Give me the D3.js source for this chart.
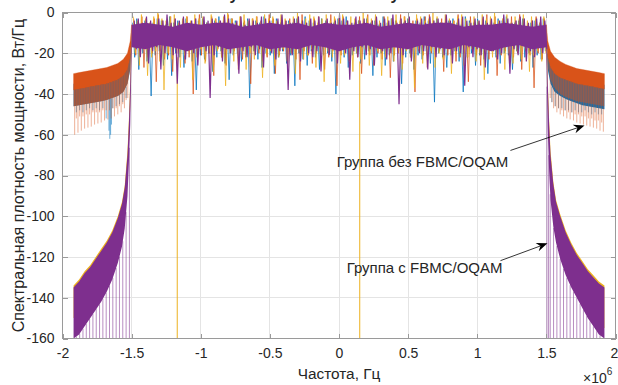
<!DOCTYPE html>
<html>
<head>
<meta charset="utf-8">
<script src="https://cdn.jsdelivr.net/npm/d3@7/dist/d3.min.js"></script>
<style>
  html, body { margin: 0; padding: 0; background: #fff; }
  svg text { font-family: "Liberation Sans", Arial, Helvetica, sans-serif; fill: #262626; }
</style>
</head>
<body>
<svg id="chart" width="618" height="385"></svg>
<script>
// Power spectral density of two signal groups (OFDM vs FBMC/OQAM).
// Frequencies in MHz (axis shows Hz ×10^6), levels in dB.

const xTicks = [-2, -1.5, -1, -0.5, 0, 0.5, 1, 1.5, 2];
const yTicks = [-160, -140, -120, -100, -80, -60, -40, -20, 0];
const colors = { blue: "#0072BD", orange: "#D95319", yellow: "#EDB120", purple: "#7E2F8E" };

// ---- in-band traces (-1.5 .. 1.5 MHz): per-bin maxima / minima ----
const bandPhase = { blue: 0, orange: 0.0075, yellow: 0.004, purple: 0.011 };

const blueHi = [-5,-3,-6,-4,-7,-5,-3,-4,-6,-2,-5,-4,-7,-3,-5,-6,-4,-3,-5,-7,-4,-2,-6,-5,-3,-4,-6,-5,-3,-7,-4,-5,-2,-6,-4,-3,-5,-7,-4,-5,-3,-6,-2,-4,-5,-7,-3,-4,-6,-5,-3,-4,-2,-6,-5,-4,-7,-3,-5,-4,-6,-2,-5,-3,-4,-7,-5,-3,-6,-4,-5,-2,-4,-6,-3,-5,-7,-4,-3,-5,-6,-2,-4,-5,-3,-7,-4,-6,-5,-3,-4,-2,-6,-5,-4,-3,-7,-5,-4,-6,-3];
const blueLo = [-22,-28,-20,-24,-41,-21,-19,-26,-23,-31,-20,-22,-27,-19,-24,-38,-21,-23,-20,-29,-22,-19,-25,-33,-21,-20,-24,-22,-42,-19,-23,-27,-20,-21,-30,-22,-19,-25,-21,-36,-20,-23,-26,-19,-22,-28,-21,-20,-24,-40,-19,-22,-27,-21,-20,-25,-23,-19,-31,-22,-20,-26,-21,-24,-19,-35,-22,-20,-28,-21,-23,-19,-25,-44,-20,-22,-27,-21,-19,-24,-39,-22,-20,-26,-21,-23,-30,-19,-22,-25,-20,-21,-28,-19,-24,-22,-20,-27,-21,-23,-19];

const orangeHi = [-3,-5,-2,-4,-6,-3,-1,-4,-5,-2,-3,-6,-4,-2,-5,-3,-1,-4,-6,-2,-3,-5,-4,-1,-3,-6,-2,-4,-5,-3,-2,-4,-6,-1,-3,-5,-2,-4,-3,-6,-2,-1,-5,-4,-3,-2,-6,-4,-1,-3,-5,-2,-4,-6,-3,-2,-5,-1,-4,-3,-6,-2,-5,-3,-4,-1,-2,-6,-4,-3,-5,-2,-1,-4,-6,-3,-2,-5,-4,-1,-3,-6,-2,-4,-5,-3,-1,-4,-2,-6,-3,-5,-2,-4,-1,-3,-6,-4,-2,-5,-3];
const orangeLo = [-21,-19,-27,-22,-20,-34,-19,-23,-21,-29,-20,-18,-25,-22,-40,-19,-21,-24,-20,-31,-18,-22,-26,-20,-19,-28,-23,-21,-35,-19,-20,-24,-22,-18,-30,-21,-19,-27,-20,-23,-33,-19,-21,-25,-20,-18,-28,-22,-19,-36,-21,-20,-24,-19,-22,-30,-18,-21,-26,-20,-23,-19,-32,-21,-20,-25,-18,-22,-39,-19,-21,-27,-20,-23,-19,-29,-21,-18,-24,-22,-20,-34,-19,-21,-26,-20,-23,-18,-31,-21,-19,-25,-22,-20,-28,-19,-21,-37,-20,-23,-19];

const yellowHi = [-2,-4,-1,-3,-5,-2,0,-3,-4,-2,-1,-5,-3,-2,-4,-1,-3,-2,-5,-1,-3,-4,-2,0,-3,-5,-2,-1,-4,-3,-2,-5,-1,-3,-2,-4,-1,-3,-5,-2,0,-4,-3,-1,-2,-5,-3,-1,-4,-2,-3,-1,-5,-2,-3,-4,0,-2,-3,-1,-4,-5,-2,-3,-1,-4,-2,-3,-5,-1,-2,-4,-3,0,-2,-5,-1,-3,-4,-2,-1,-3,-5,-2,-4,-1,-3,-2,0,-4,-3,-1,-5,-2,-3,-1,-4,-2,-3,-5,-2];
const yellowLo = [-20,-26,-18,-31,-22,-19,-24,-38,-20,-23,-18,-27,-21,-19,-33,-22,-18,-25,-20,-29,-19,-22,-36,-18,-24,-21,-19,-28,-20,-23,-18,-32,-21,-19,-26,-22,-18,-24,-20,-30,-19,-23,-21,-18,-27,-20,-34,-19,-22,-18,-25,-21,-19,-29,-20,-23,-18,-26,-21,-19,-31,-22,-18,-24,-20,-28,-19,-22,-37,-18,-25,-21,-19,-27,-20,-23,-18,-30,-21,-19,-26,-22,-18,-24,-20,-33,-19,-22,-21,-18,-28,-20,-25,-19,-23,-18,-29,-21,-19,-24,-20];

const purpleHi = [-4,-3,-5,-2,-4,-6,-3,-4,-1,-5,-3,-4,-2,-5,-4,-3,-6,-2,-4,-3,-5,-4,-1,-3,-5,-4,-2,-6,-3,-4,-5,-2,-3,-4,-6,-3,-1,-4,-5,-3,-2,-4,-5,-3,-4,-2,-6,-3,-5,-4,-1,-3,-4,-5,-2,-4,-3,-6,-4,-2,-5,-3,-4,-1,-5,-3,-4,-2,-6,-4,-3,-5,-2,-4,-3,-5,-1,-4,-6,-3,-2,-4,-5,-3,-4,-2,-5,-3,-6,-4,-1,-3,-5,-4,-2,-3,-5,-4,-3,-2,-4];
const purpleLo = [-18,-22,-16,-25,-19,-17,-28,-20,-16,-21,-35,-18,-23,-17,-20,-26,-16,-19,-42,-21,-17,-24,-18,-20,-16,-30,-19,-22,-17,-21,-18,-27,-16,-20,-23,-19,-17,-38,-21,-18,-24,-16,-20,-22,-19,-29,-17,-21,-18,-25,-16,-20,-33,-19,-22,-17,-21,-18,-26,-16,-19,-23,-20,-17,-45,-21,-18,-24,-16,-20,-19,-28,-17,-22,-18,-21,-16,-25,-19,-20,-36,-17,-22,-18,-21,-27,-16,-19,-23,-20,-17,-30,-18,-21,-16,-24,-19,-22,-17,-20,-18];

// dense core of the top trace, 0.1 MHz grid
const coreFreq = d3.range(31).map(i => +(-1.5 + i * 0.1).toFixed(2));
const purpleCoreTop = [-6,-5,-6,-7,-5,-6,-5,-5,-7,-6,-5,-6,-5,-7,-5,-6,-6,-5,-7,-6,-5,-6,-5,-5,-7,-6,-6,-5,-6,-7,-6];
const purpleCoreBot = [-17,-18,-16,-17,-19,-17,-16,-18,-17,-16,-18,-17,-18,-16,-17,-19,-17,-16,-18,-17,-18,-16,-17,-18,-16,-17,-19,-17,-16,-18,-17];

// deep single-bin nulls of the yellow trace
const yellowNullFreq = [-1.17, 0.15];
const yellowNullTop = [-22, -24];
const yellowNullDepth = [-171, -168];

// ---- OFDM out-of-band sidelobes ----
const sideFreqL = [-1.92,-1.88,-1.84,-1.80,-1.76,-1.72,-1.68,-1.64,-1.60,-1.56,-1.53,-1.51,-1.50];
const orangeTopL = [-30,-29.5,-29,-28.5,-28,-27.5,-27,-26,-25,-23,-20,-14,-6];
const orangeBotL = [-38,-37.5,-37,-36.5,-36,-35.5,-35,-34,-33,-31,-28,-22,-12];
const orangeFringeL = [-46,-45.5,-45,-44.5,-44,-43.5,-43,-42,-41,-39,-35,-28,-16];
const blueTopL = [-35,-35,-34.5,-34,-34,-33.5,-33,-32,-31,-29,-26,-20,-10];
const blueBotL = [-46,-45.5,-45,-44.5,-44,-43.5,-43,-42,-41,-39,-35,-28,-16];

const sideFreqR = [1.50,1.51,1.53,1.56,1.60,1.64,1.68,1.72,1.76,1.80,1.84,1.88,1.92];
const orangeTopR = [-6,-14,-19,-22,-24,-25.5,-26.5,-27.5,-28,-28.5,-29,-29.5,-30];
const orangeBotR = [-12,-22,-27,-30,-32,-33,-34,-35,-35.5,-36,-36.5,-37,-37.5];
const orangeFringeR = [-15,-27,-33,-37,-40,-41.5,-42.5,-43.5,-44,-44.5,-45,-45.5,-46];
const blueTopR = [-10,-20,-25,-28,-30,-31,-32,-33,-33.5,-34,-34.5,-35,-35.5];
const blueBotR = [-16,-28,-35,-39,-41,-42.5,-43.5,-44.5,-45.5,-46,-46.5,-47,-47.5];

// sidelobe nulls (comb)
const orangeCombFreqL = [-1.912,-1.900,-1.888,-1.876,-1.864,-1.852,-1.840,-1.828,-1.816,-1.804,-1.792,-1.780,-1.768,-1.756,-1.744,-1.732,-1.720,-1.708,-1.696,-1.684,-1.672,-1.660,-1.648,-1.636,-1.624,-1.612,-1.600,-1.588,-1.576,-1.564,-1.552,-1.540,-1.528];
const orangeCombDepthL = [-60,-52,-59,-51,-58,-51,-57,-50,-56.5,-50,-56,-49,-55,-49,-54.5,-49,-54,-48,-53,-48,-52.5,-48,-52,-47,-51,-47,-50,-46,-49,-45,-47,-43,-42];
const orangeCombFreqR = [1.528,1.540,1.552,1.564,1.576,1.588,1.600,1.612,1.624,1.636,1.648,1.660,1.672,1.684,1.696,1.708,1.720,1.732,1.744,1.756,1.768,1.780,1.792,1.804,1.816,1.828,1.840,1.852,1.864,1.876,1.888,1.900,1.912];
const orangeCombDepthR = [-42,-44,-47,-46,-49,-47,-50,-48,-51,-48,-52,-49,-52.5,-49,-53,-50,-54,-50,-54.5,-51,-55,-51,-55.5,-52,-56,-52,-56.5,-53,-57,-53,-58,-54,-58.5];

const blueCombFreqL = [-1.900,-1.876,-1.852,-1.828,-1.804,-1.780,-1.756,-1.732,-1.708,-1.684,-1.664,-1.658,-1.652,-1.646,-1.636,-1.612,-1.588,-1.564,-1.540];
const blueCombDepthL = [-49,-48,-49,-48,-47,-48,-47,-48,-47,-52,-58,-62,-60,-55,-47,-46,-45,-44,-42];
const blueCombFreqR = [1.540,1.564,1.588,1.612,1.636,1.660,1.684,1.708,1.732,1.756,1.780,1.804,1.828,1.852,1.876,1.900];
const blueCombDepthR = [-44,-46,-47,-47,-48,-48,-49,-48,-49,-49,-48,-49,-50,-49,-50,-50];

// ---- FBMC/OQAM skirts ----
const skirtFreqL = [-1.92,-1.88,-1.84,-1.80,-1.76,-1.72,-1.68,-1.64,-1.60,-1.57,-1.55,-1.53,-1.52,-1.51,-1.50];
const purpleTopL = [-135,-132,-128,-125,-121,-117,-113,-108,-101,-94,-86,-70,-55,-35,-6];
const purpleBotL = [-160,-158,-154,-150,-146,-142,-137,-131,-123,-115,-106,-90,-74,-55,-20];
const yellowTopL = [-134,-131,-127,-124,-120,-116,-112,-107,-100,-93,-85,-68,-53,-33,-5];
const yellowBotL = [-150,-147,-144,-141,-137,-133,-128,-123,-116,-108,-98,-82,-66,-46,-16];

const skirtFreqR = [1.50,1.51,1.52,1.53,1.55,1.57,1.60,1.64,1.68,1.72,1.76,1.80,1.84,1.88,1.92];
const purpleTopR = [-6,-35,-55,-70,-84,-93,-100,-108,-114,-119,-123,-127,-130,-133,-135];
const purpleBotR = [-22,-58,-78,-92,-105,-113,-121,-129,-135,-140,-145,-150,-154,-158,-160];
const yellowTopR = [-5,-33,-53,-68,-83,-92,-99,-107,-113,-118,-122,-126,-129,-132,-134];
const yellowBotR = [-16,-45,-66,-82,-98,-108,-116,-124,-130,-136,-141,-146,-150,-153,-155];

const purpleCombFreqL = [-1.900,-1.876,-1.852,-1.828,-1.804,-1.780,-1.756,-1.732,-1.708,-1.684,-1.660,-1.636,-1.612,-1.588,-1.564,-1.540,-1.516];
const purpleCombDepthL = [-172,-168,-175,-170,-166,-173,-169,-177,-171,-167,-174,-170,-176,-168,-172,-169,-175];
const purpleCombFreqR = [1.504,1.516,1.528,1.552,1.576,1.600,1.624,1.648,1.672,1.696,1.720,1.744,1.768,1.792,1.816,1.840,1.864,1.888];
const purpleCombDepthR = [-174,-169,-172,-176,-168,-171,-175,-167,-173,-170,-177,-169,-172,-168,-174,-171,-176,-170];

// ---- annotations (frequency MHz, level dB) ----
const notes = [
  { text: "Группа без FBMC/OQAM", at: [0.604, -73.2], from: [1.240, -67.7], to: [1.776, -55.4] },
  { text: "Группа с FBMC/OQAM",   at: [0.619, -125.6], from: [1.168, -121.8], to: [1.508, -113.3] }
];
const titleText = "Внеполосное излучение сигналов в сумме";

// ================= drawing =================
const MHz = 1e6;
const plot = { left: 62.5, right: 615.5, top: 12.5, bottom: 338.5 };

const svg = d3.select("#chart");
const x = d3.scaleLinear().domain([-2 * MHz, 2 * MHz]).range([plot.left, plot.right]);
const y = d3.scaleLinear().domain([-160, 0]).range([plot.bottom, plot.top]);
const fx = f => x(f * MHz);

svg.append("defs").append("clipPath").attr("id", "plotClip")
  .append("rect").attr("x", plot.left).attr("y", plot.top)
  .attr("width", plot.right - plot.left).attr("height", plot.bottom - plot.top);

// grid
const grid = svg.append("g").attr("stroke", "#e4e4e4").attr("stroke-width", 1).attr("shape-rendering", "crispEdges");
grid.selectAll("line.gx").data(xTicks).join("line")
  .attr("x1", d => fx(d)).attr("x2", d => fx(d)).attr("y1", plot.top).attr("y2", plot.bottom);
grid.selectAll("line.gy").data(yTicks).join("line")
  .attr("y1", d => y(d)).attr("y2", d => y(d)).attr("x1", plot.left).attr("x2", plot.right);

const data = svg.append("g").attr("clip-path", "url(#plotClip)");

const lineGen = d3.line().x(d => fx(d[0])).y(d => y(d[1]));
const areaGen = d3.area().x(d => fx(d[0])).y0(d => y(d[2])).y1(d => y(d[1]));

function zigzag(hi, lo, phase) {
  const n = Math.min(hi.length, lo.length);
  const step = 3.0 / n;
  const pts = [];
  for (let i = 0; i < n; i++) {
    pts.push([-1.5 + (i + 0.25) * step + phase, hi[i]]);
    pts.push([-1.5 + (i + 0.75) * step + phase, lo[i]]);
  }
  return pts;
}
function drawBand(g, hi, lo, phase, color, width) {
  g.append("path").attr("d", lineGen(zigzag(hi, lo, phase)))
    .attr("fill", "none").attr("stroke", color).attr("stroke-width", width);
}
function drawArea(g, freqs, top, bot, color, opacity, edge = 0.6) {
  const rows = freqs.map((f, i) => [f, top[i], bot[i]]);
  g.append("path").attr("d", areaGen(rows)).attr("fill", color)
    .attr("fill-opacity", opacity).attr("stroke", color).attr("stroke-opacity", opacity * 0.6).attr("stroke-width", edge);
}
function drawComb(g, freqs, depths, envF, envV, color, opacity, width) {
  const env = d3.scaleLinear().domain(envF).range(envV).clamp(true);
  g.selectAll(null).data(freqs.map((f, i) => [f, depths[i]])).join("line")
    .attr("x1", d => fx(d[0])).attr("x2", d => fx(d[0]))
    .attr("y1", d => y(env(d[0]))).attr("y2", d => y(d[1]))
    .attr("stroke", color).attr("stroke-opacity", opacity).attr("stroke-width", width);
}

// OFDM, signal 1 (blue)
const gBlue = data.append("g");
drawBand(gBlue, blueHi, blueLo, bandPhase.blue, colors.blue, 0.75);
drawArea(gBlue, sideFreqL, blueTopL, blueBotL, colors.blue, 1, 0);
drawArea(gBlue, sideFreqR, blueTopR, blueBotR, colors.blue, 1, 0);
drawComb(gBlue, blueCombFreqL, blueCombDepthL, sideFreqL, blueBotL, colors.blue, 0.55, 1);
drawComb(gBlue, blueCombFreqR, blueCombDepthR, sideFreqR, blueBotR, colors.blue, 0.55, 1);

// OFDM, signal 2 (orange)
const gOrange = data.append("g");
drawBand(gOrange, orangeHi, orangeLo, bandPhase.orange, colors.orange, 0.75);
drawArea(gOrange, sideFreqL, orangeTopL, orangeBotL, colors.orange, 1);
drawArea(gOrange, sideFreqR, orangeTopR, orangeBotR, colors.orange, 1);
drawArea(gOrange, sideFreqL, orangeBotL, orangeFringeL, colors.orange, 0.62, 0);
drawArea(gOrange, sideFreqR, orangeBotR, orangeFringeR, colors.orange, 0.45, 0);
drawComb(gOrange, orangeCombFreqL, orangeCombDepthL, sideFreqL, orangeBotL, colors.orange, 0.45, 1);
drawComb(gOrange, orangeCombFreqR, orangeCombDepthR, sideFreqR, orangeBotR, colors.orange, 0.45, 1);

// FBMC/OQAM, signal 1 (yellow)
const gYellow = data.append("g");
drawBand(gYellow, yellowHi, yellowLo, bandPhase.yellow, colors.yellow, 0.75);
drawArea(gYellow, skirtFreqL, yellowTopL, yellowBotL, colors.yellow, 1, 0);
drawArea(gYellow, skirtFreqR, yellowTopR, yellowBotR, colors.yellow, 1, 0);
gYellow.selectAll(null).data(yellowNullFreq.map((f, i) => [f, yellowNullTop[i], yellowNullDepth[i]])).join("line")
  .attr("x1", d => fx(d[0])).attr("x2", d => fx(d[0]))
  .attr("y1", d => y(d[1])).attr("y2", d => y(d[2]))
  .attr("stroke", colors.yellow).attr("stroke-width", 1);

// FBMC/OQAM, signal 2 (purple)
const gPurple = data.append("g");
drawBand(gPurple, purpleHi, purpleLo, bandPhase.purple, colors.purple, 1.2);
drawArea(gPurple, coreFreq, purpleCoreTop, purpleCoreBot, colors.purple, 1, 0);
drawArea(gPurple, skirtFreqL, purpleTopL, purpleBotL, colors.purple, 1, 0);
drawArea(gPurple, skirtFreqR, purpleTopR, purpleBotR, colors.purple, 1, 0);
drawComb(gPurple, purpleCombFreqL, purpleCombDepthL, skirtFreqL, purpleBotL, colors.purple, 0.55, 1);
drawComb(gPurple, purpleCombFreqR, purpleCombDepthR, skirtFreqR, purpleBotR, colors.purple, 0.55, 1);

// axes box and inward ticks
const axesColor = "#9a9a9a";
const box = svg.append("g").attr("shape-rendering", "crispEdges");
box.append("rect").attr("x", plot.left).attr("y", plot.top)
  .attr("width", plot.right - plot.left).attr("height", plot.bottom - plot.top)
  .attr("fill", "none").attr("stroke", axesColor).attr("stroke-width", 1);

const fmt = v => String(v);
const xAxis = svg.append("g").attr("transform", `translate(0,${plot.bottom})`)
  .call(d3.axisBottom(x).tickValues(xTicks.map(d => d * MHz)).tickFormat(d => fmt(d / MHz))
    .tickSizeInner(-5).tickSizeOuter(0).tickPadding(10));
const xTop = svg.append("g").attr("transform", `translate(0,${plot.top})`)
  .call(d3.axisTop(x).tickValues(xTicks.map(d => d * MHz)).tickFormat("").tickSizeInner(-5).tickSizeOuter(0));
const yAxis = svg.append("g").attr("transform", `translate(${plot.left},0)`)
  .call(d3.axisLeft(y).tickValues(yTicks).tickFormat(fmt).tickSizeInner(-5).tickSizeOuter(0).tickPadding(8));
const yRight = svg.append("g").attr("transform", `translate(${plot.right},0)`)
  .call(d3.axisRight(y).tickValues(yTicks).tickFormat("").tickSizeInner(-5).tickSizeOuter(0));

[xAxis, xTop, yAxis, yRight].forEach(a => {
  a.select(".domain").remove();
  a.selectAll(".tick line").attr("stroke", axesColor).attr("shape-rendering", "crispEdges");
  a.selectAll(".tick text").attr("font-size", 14).attr("fill", "#262626")
    .attr("font-family", '"Liberation Sans", Arial, sans-serif');
});
// last x label sits at the window edge
xAxis.selectAll(".tick text").filter(d => d === 2 * MHz).attr("dx", -1.5);

// exponent
const expo = svg.append("text").attr("x", 583).attr("y", 383).attr("font-size", 14);
expo.append("tspan").text("×10");
expo.append("tspan").attr("font-size", 10).attr("dy", -8).text("6");

// axis labels
svg.append("text").attr("x", (plot.left + plot.right) / 2).attr("y", 379)
  .attr("text-anchor", "middle").attr("font-size", 15.4).text("Частота, Гц");
svg.append("text").attr("transform", `translate(24,${(plot.top + plot.bottom) / 2}) rotate(-90)`)
  .attr("text-anchor", "middle").attr("font-size", 16)
  .text("Спектральная плотность мощности, Вт/Гц");

// title (sits above the visible area, only descenders show)
const title = svg.append("text").attr("y", 0).attr("font-size", 16).attr("font-weight", "bold")
  .attr("fill", "#000").text(titleText);
{
  const node = title.node();
  const idx = titleText.indexOf("у");
  const pre = node.getSubStringLength(0, idx);
  const w = node.getSubStringLength(idx, 1);
  title.attr("x", 234 - pre - w / 2);
}

// annotations with arrows
const ann = svg.append("g");
notes.forEach(n => {
  ann.append("text").attr("x", fx(n.at[0])).attr("y", y(n.at[1]) + 5)
    .attr("text-anchor", "middle").attr("font-size", 15).attr("fill", "#000").text(n.text);
  const x0 = fx(n.from[0]), y0 = y(n.from[1]), x1 = fx(n.to[0]), y1 = y(n.to[1]);
  const ang = Math.atan2(y1 - y0, x1 - x0);
  const ux = Math.cos(ang), uy = Math.sin(ang), px = -uy, py = ux;
  const L = 11, Wd = 4.5, notch = 7.5;
  const bx = x1 - ux * L, by = y1 - uy * L, nx = x1 - ux * notch, ny = y1 - uy * notch;
  ann.append("line").attr("x1", x0).attr("y1", y0).attr("x2", nx).attr("y2", ny)
    .attr("stroke", "#000").attr("stroke-width", 0.8);
  ann.append("path")
    .attr("d", `M${x1},${y1}L${bx + px * Wd},${by + py * Wd}L${nx},${ny}L${bx - px * Wd},${by - py * Wd}Z`)
    .attr("fill", "#000");
});
</script>
</body>
</html>
